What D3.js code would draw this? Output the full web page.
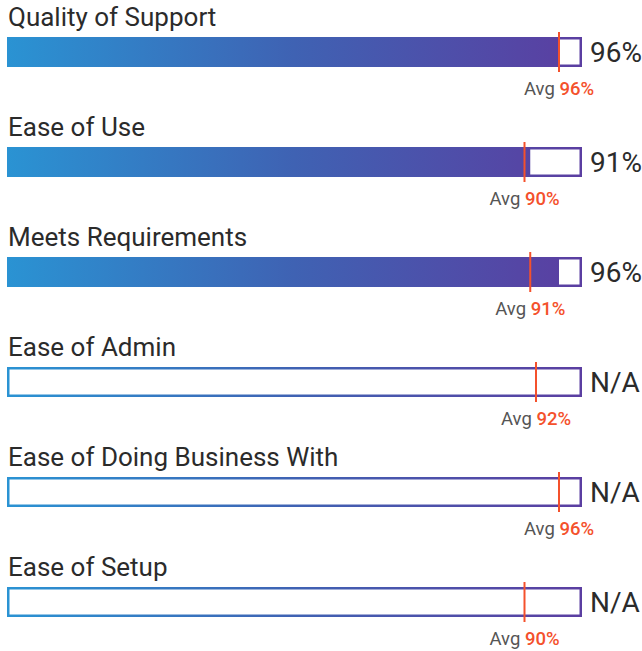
<!DOCTYPE html>
<html>
<head>
<meta charset="utf-8">
<script src="https://cdn.jsdelivr.net/npm/d3@7"></script>
<style>
  body { margin: 0; background: #fff; }
  text { font-family: Roboto, "Noto Sans", sans-serif; }
</style>
</head>
<body>
<div id="chart"></div>
<script>
var categories = ["Quality of Support", "Ease of Use", "Meets Requirements",
                  "Ease of Admin", "Ease of Doing Business With", "Ease of Setup"];
var scores = [96, 91, 96, null, null, null];   // null = N/A
var averages = [96, 90, 91, 92, 96, 90];

var width = 642,
    height = 651,
    barLeft = 7,
    barRight = 582,
    barHeight = 30,
    rowStep = 110,
    firstBarY = 37;

var textColor = "#2b2b2b",
    avgColor = "#f4512c",
    avgLabelColor = "#555555";

var svg = d3.select("#chart")
    .append("svg")
    .attr("width", width)
    .attr("height", height);

var defs = svg.append("defs");

var grad = defs.append("linearGradient")
    .attr("id", "barGradient")
    .attr("gradientUnits", "userSpaceOnUse")
    .attr("x1", barLeft)
    .attr("x2", barRight)
    .attr("y1", 0)
    .attr("y2", 0);

grad.append("stop").attr("offset", "0%").style("stop-color", "#2a93d3");
grad.append("stop").attr("offset", "50%").style("stop-color", "#3f62b3");
grad.append("stop").attr("offset", "100%").style("stop-color", "#5b3ea1");

var x = d3.scaleLinear()
    .domain([0, 100])
    .range([barLeft, barRight]);

var y = d3.scaleLinear()
    .domain([0, 1])
    .range([firstBarY, firstBarY + rowStep]);

var rows = svg.selectAll("g.row")
    .data(categories)
    .enter()
    .append("g")
    .attr("class", "row")
    .attr("transform", function (d, i) { return "translate(0," + y(i) + ")"; });

// category label
rows.append("text")
    .attr("x", barLeft + 1)
    .attr("y", -11)
    .text(function (d) { return d; })
    .style("fill", textColor)
    .style("font-size", "26px");

// outline of the full bar
rows.append("rect")
    .attr("x", x(0) + 1.25)
    .attr("y", 1.25)
    .attr("width", x(100) - x(0) - 2.5)
    .attr("height", barHeight - 2.5)
    .style("fill", "#ffffff")
    .style("stroke", "url(#barGradient)")
    .style("stroke-width", "2.5px");

// filled part
rows.filter(function (d, i) { return scores[i] != null; })
    .append("rect")
    .attr("x", x(0))
    .attr("y", 0)
    .attr("width", function (d) { return x(scores[categories.indexOf(d)]) - x(0); })
    .attr("height", barHeight)
    .style("fill", "url(#barGradient)");

// score text
rows.append("text")
    .attr("x", barRight + 8)
    .attr("y", barHeight / 2)
    .attr("dy", "0.36em")
    .text(function (d, i) { return scores[i] == null ? "N/A" : scores[i] + "%"; })
    .style("fill", textColor)
    .style("font-size", "28px");

// average marker
rows.append("line")
    .attr("x1", function (d, i) { return x(averages[i]); })
    .attr("x2", function (d, i) { return x(averages[i]); })
    .attr("y1", -5)
    .attr("y2", barHeight + 5)
    .style("stroke", avgColor)
    .style("stroke-width", "2px");

var avgText = rows.append("text")
    .attr("x", function (d, i) { return x(averages[i]); })
    .attr("y", barHeight + 28)
    .attr("text-anchor", "middle")
    .style("font-size", "18.5px");

avgText.append("tspan")
    .text("Avg ")
    .style("fill", avgLabelColor);

avgText.append("tspan")
    .text(function (d, i) { return averages[i] + "%"; })
    .style("fill", avgColor)
    .style("font-weight", "500");
</script>
</body>
</html>
